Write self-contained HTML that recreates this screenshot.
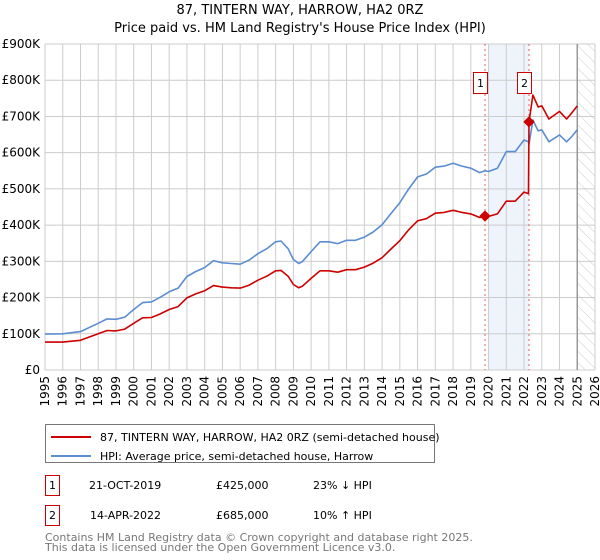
<!DOCTYPE html>
<html><head><meta charset="utf-8"><style>
body{margin:0;background:#fff;font-family:"DejaVu Sans","Liberation Sans",sans-serif;}
svg{display:block}
</style></head><body>
<svg id="c" width="600" height="560" xmlns="http://www.w3.org/2000/svg" font-family="DejaVu Sans, Liberation Sans, sans-serif">
<defs><pattern id="hatch" width="8" height="8" patternUnits="userSpaceOnUse" patternTransform="rotate(-45)"><line x1="0" y1="0" x2="0" y2="8" stroke="#ccc" stroke-width="1"/></pattern></defs>
<text x="300" y="14" text-anchor="middle" font-size="13">87, TINTERN WAY, HARROW, HA2 0RZ</text>
<text x="300" y="32" text-anchor="middle" font-size="13">Price paid vs. HM Land Registry's House Price Index (HPI)</text>
<g id="plot"></g>
<g>
<rect x="45.5" y="424.5" width="389" height="38" fill="#fff" stroke="#777"/>
<line x1="51" y1="437" x2="91" y2="437" stroke="#cc0000" stroke-width="2"/>
<text x="100" y="441" font-size="11">87, TINTERN WAY, HARROW, HA2 0RZ (semi-detached house)</text>
<line x1="51" y1="456" x2="91" y2="456" stroke="#5b8dd0" stroke-width="2"/>
<text x="100" y="460" font-size="11">HPI: Average price, semi-detached house, Harrow</text>
</g>
<g font-size="11">
<rect x="45.5" y="475.5" width="14" height="20" fill="#fff" stroke="#cc0000"/><text x="52.5" y="489" text-anchor="middle">1</text>
<text x="89" y="489">21-OCT-2019</text><text x="216" y="489">£425,000</text><text x="313" y="489">23% ↓ HPI</text>
<rect x="45.5" y="505.5" width="14" height="20" fill="#fff" stroke="#cc0000"/><text x="52.5" y="519" text-anchor="middle">2</text>
<text x="90" y="519">14-APR-2022</text><text x="216" y="519">£685,000</text><text x="313" y="519">10% ↑ HPI</text>
</g>
<text x="45" y="541" font-size="11" fill="#777">Contains HM Land Registry data © Crown copyright and database right 2025.</text>
<text x="45" y="551" font-size="11" fill="#777">This data is licensed under the Open Government Licence v3.0.</text>
</svg>
<script>
const hpiYears=[1995,1996,1997,1998,1998.5,1999,1999.5,2000,2000.5,2001,2001.5,2002,2002.5,2003,2003.5,2004,2004.5,2005,2005.5,2006,2006.5,2007,2007.5,2008,2008.3,2008.7,2009,2009.3,2009.5,2010,2010.5,2011,2011.5,2012,2012.5,2013,2013.5,2014,2014.5,2015,2015.5,2016,2016.5,2017,2017.5,2018,2018.5,2019,2019.5,2019.8,2020,2020.5,2021,2021.5,2022,2022.25,2022.28,2022.5,2022.8,2023,2023.4,2024,2024.4,2024.7,2025];
const hpiValues=[99,100,106,129,141,140,146,167,186,188,201,216,226,258,272,283,302,296,294,292,303,321,335,354,356,335,305,294,299,327,354,354,349,358,358,367,381,401,432,462,500,533,541,560,563,571,563,557,545,550,548,557,603,603,635,630,623,690,660,663,630,649,630,645,663];
const priceValues=[77,77,82,100,109,108,113,129,144,145,155,167,175,199,210,219,233,229,227,226,234,248,259,274,275,259,236,227,231,253,274,274,270,277,277,284,295,310,334,357,387,412,418,433,435,441,435,431,421,425,424,431,466,466,491,487,685,759,726,729,693,714,693,710,729];
const sales=[{n:"1",t:2019.8,v:425},{n:"2",t:2022.28,v:685}];
const yTicks=[0,100,200,300,400,500,600,700,800,900];
const yTickLabels=["£0","£100K","£200K","£300K","£400K","£500K","£600K","£700K","£800K","£900K"];
const xTicks=[1995,1996,1997,1998,1999,2000,2001,2002,2003,2004,2005,2006,2007,2008,2009,2010,2011,2012,2013,2014,2015,2016,2017,2018,2019,2020,2021,2022,2023,2024,2025,2026];
const X0=45,X1=595,Y0=370,Y1=44;
const xs=t=>X0+(t-1995)/(2026-1995)*(X1-X0);
const ys=v=>Y0-v/900*(Y0-Y1);
const NS="http://www.w3.org/2000/svg";
const g=document.getElementById('plot');
function mk(tag,at,parent){const e=document.createElementNS(NS,tag);for(const k in at)e.setAttribute(k,at[k]);(parent||g).appendChild(e);return e;}
let e=mk('rect',{x:xs(2020),y:Y1,width:xs(2022.28)-xs(2020),height:Y0-Y1,fill:'#eef3fc'});


e=mk('rect',{x:xs(2025),y:Y1,width:X1-xs(2025),height:Y0-Y1,fill:'url(#hatch)'});


yTicks.forEach((v,i)=>{
 e=mk('line',{x1:X0,x2:X1,y1:ys(v),y2:ys(v),stroke:'#ccc'});
 
 
 e=mk('text',{x:X0-5,y:ys(v)+4,'text-anchor':'end','font-size':12});
 e.textContent=yTickLabels[i];
 
 
});
xTicks.forEach(t=>{
 e=mk('line',{x1:xs(t),x2:xs(t),y1:Y1,y2:Y0,stroke:'#ccc'});
 
 
 e=mk('text',{x:0,y:0,'font-size':12,'text-anchor':'end',transform:`translate(${xs(t)+4},${Y0+6}) rotate(-90)`});
 e.textContent=t;
 
 
});
e=mk('line',{x1:xs(2025),x2:xs(2025),y1:Y1,y2:Y0,stroke:'#999','stroke-width':1.5});


sales.forEach(s=>{
 e=mk('line',{x1:xs(s.t),x2:xs(s.t),y1:Y1,y2:Y0,stroke:'#e06060','stroke-dasharray':'2,3'});
 
 
});
function line(vals,col,name){
 const d=vals.map((v,i)=>(i?'L':'M')+xs(hpiYears[i]).toFixed(1)+','+ys(v).toFixed(1)).join('');
 e=mk('path',{d:d,fill:'none',stroke:col,'stroke-width':1.6,'stroke-linejoin':'round'});
 
 
}
line(hpiValues,'#5b8dd0','hpi-line');
line(priceValues,'#cc0000','price-paid-line');
sales.forEach(s=>{
 e=mk('rect',{x:xs(s.t)-4,y:ys(s.v)-4,width:8,height:8,fill:'#cc0000',transform:`rotate(45 ${xs(s.t)} ${ys(s.v)})`});
 
 
 e=mk('rect',{x:xs(s.t)-11.5,y:72.5,width:14,height:21,fill:'#fff',stroke:'#cc0000'});
 
 
 e=mk('text',{x:xs(s.t)-4.5,y:87,'text-anchor':'middle','font-size':11});
 e.textContent=s.n;
 
 
});
</script>
</body></html>
